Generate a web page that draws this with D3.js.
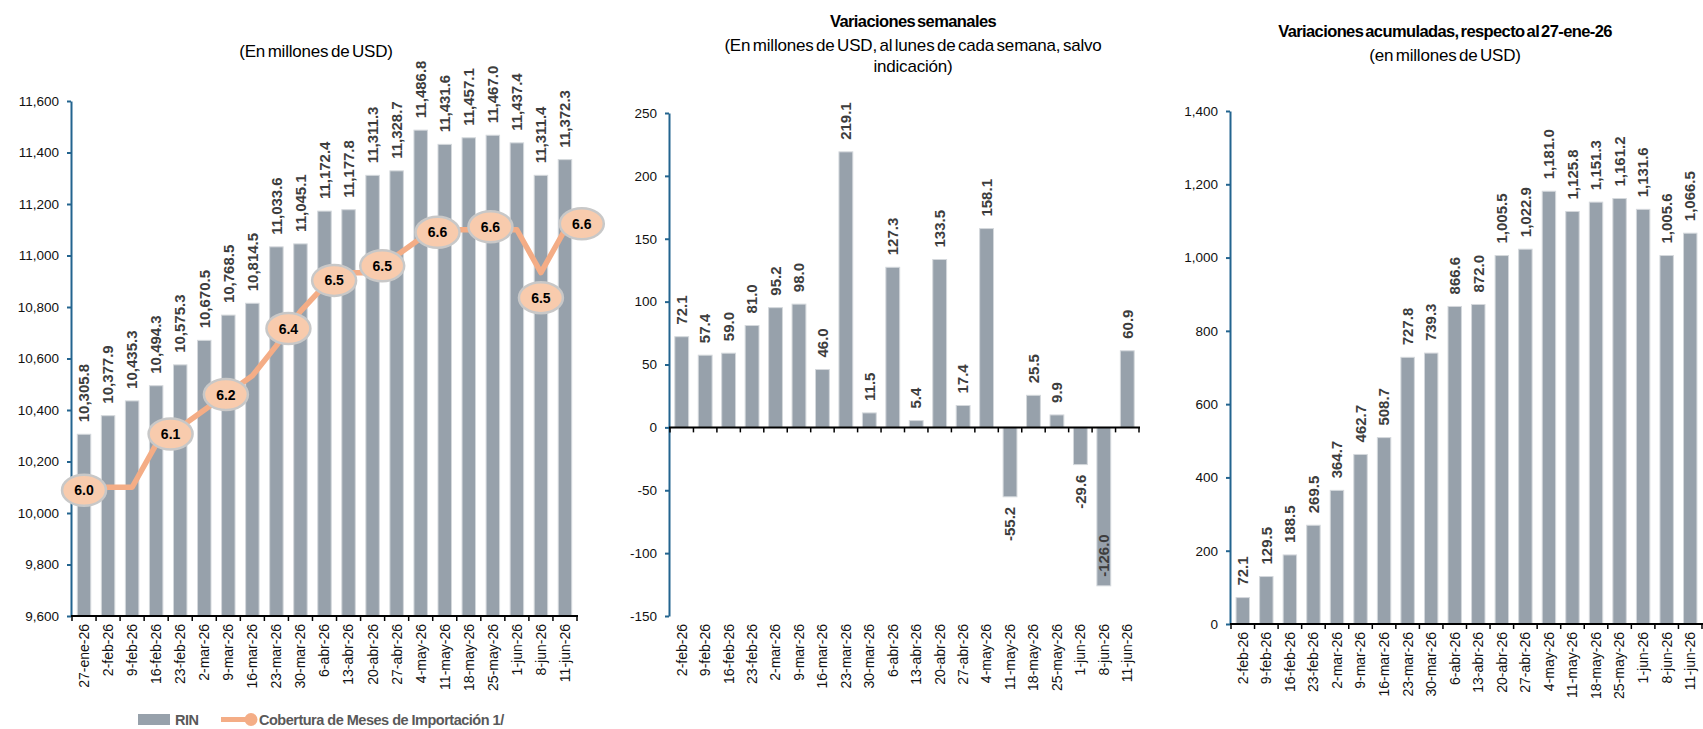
<!DOCTYPE html>
<html>
<head>
<meta charset="utf-8">
<script src="https://cdn.jsdelivr.net/npm/d3@7"></script>
<style>
  body { margin: 0; background: #fff; }
  svg text { font-family: "Liberation Sans", Arial, sans-serif; }
</style>
</head>
<body>
<svg id="chart" width="1703" height="729"></svg>
<script>
// ---- datos ----
const fechasRIN = ['27-ene-26','2-feb-26','9-feb-26','16-feb-26','23-feb-26','2-mar-26','9-mar-26',
  '16-mar-26','23-mar-26','30-mar-26','6-abr-26','13-abr-26','20-abr-26','27-abr-26','4-may-26',
  '11-may-26','18-may-26','25-may-26','1-jun-26','8-jun-26','11-jun-26'];
const rin = [10305.8, 10377.9, 10435.3, 10494.3, 10575.3, 10670.5, 10768.5, 10814.5, 11033.6,
  11045.1, 11172.4, 11177.8, 11311.3, 11328.7, 11486.8, 11431.6, 11457.1, 11467.0, 11437.4,
  11311.4, 11372.3];
// cobertura de meses de importación (eje secundario, oculto)
const cobertura = [6.00, 6.00, 6.00, 6.10, 6.14, 6.18, 6.22, 6.26, 6.33, 6.41, 6.47, 6.50, 6.50,
  6.54, 6.58, 6.60, 6.60, 6.60, 6.60, 6.50, 6.60];
// etiquetas de la línea: posición (índice de categoría) y texto
const coberturaPos = [0, 3.6, 5.9, 8.5, 10.4, 12.4, 14.7, 16.9, 19, 20.7];
const coberturaTxt = ['6.0','6.1','6.2','6.4','6.5','6.5','6.6','6.6','6.5','6.6'];
const ticksRIN = [9600, 9800, 10000, 10200, 10400, 10600, 10800, 11000, 11200, 11400, 11600];

const fechasVar = ['2-feb-26','9-feb-26','16-feb-26','23-feb-26','2-mar-26','9-mar-26','16-mar-26',
  '23-mar-26','30-mar-26','6-abr-26','13-abr-26','20-abr-26','27-abr-26','4-may-26','11-may-26',
  '18-may-26','25-may-26','1-jun-26','8-jun-26','11-jun-26'];
const varSemanal = [72.1, 57.4, 59.0, 81.0, 95.2, 98.0, 46.0, 219.1, 11.5, 127.3, 5.4, 133.5,
  17.4, 158.1, -55.2, 25.5, 9.9, -29.6, -126.0, 60.9];
const ticksSemanal = [-150, -100, -50, 0, 50, 100, 150, 200, 250];

const varAcumulada = [72.1, 129.5, 188.5, 269.5, 364.7, 462.7, 508.7, 727.8, 739.3, 866.6, 872.0,
  1005.5, 1022.9, 1181.0, 1125.8, 1151.3, 1161.2, 1131.6, 1005.6, 1066.5];
const ticksAcumulada = [0, 200, 400, 600, 800, 1000, 1200, 1400];

// ---- estilo ----
const GRIS = '#97a1ab';
const AZUL = '#23648f';
const NARANJA = '#f4ad86';
const NARANJA_CLARO = '#f8cbad';
const fmtMinus = f => (d => f(d).replace('\u2212', '-'));

const svg = d3.select('#chart');

function panel(o) {
  const n = o.cats.length;
  const x = d3.scaleBand().domain(o.cats).range([o.left, o.right])
    .paddingInner(o.pad).paddingOuter(o.pad / 2);
  const y = d3.scaleLinear().domain(o.domain).range([o.bottom, o.top]);
  const base = y(Math.max(o.domain[0], 0));
  const g = svg.append('g');

  g.selectAll('rect').data(o.vals).join('rect')
    .attr('x', (d, i) => x(o.cats[i]))
    .attr('width', x.bandwidth())
    .attr('y', d => Math.min(y(d), base))
    .attr('height', d => Math.abs(y(d) - base))
    .attr('fill', GRIS)
    .attr('stroke', '#d4d8dc')
    .attr('stroke-width', 1);

  // eje y
  const ya = g.append('g')
    .attr('transform', `translate(${o.left - 1},0)`)
    .call(d3.axisLeft(y).tickValues(o.ticks).tickFormat(fmtMinus(d3.format(',')))
      .tickSize(4).tickSizeOuter(0).tickPadding(8));
  ya.select('.domain').attr('stroke', AZUL).attr('stroke-width', 2);
  ya.selectAll('.tick line').attr('stroke', AZUL).attr('stroke-width', 2);
  ya.selectAll('.tick text').attr('font-size', 13.5).attr('fill', '#111');

  // eje x: línea base y marcas entre categorías
  g.append('line')
    .attr('x1', o.left - 1).attr('x2', o.right + 1)
    .attr('y1', base).attr('y2', base)
    .attr('stroke', '#000').attr('stroke-width', 2);
  g.selectAll('line.tk').data(d3.range(n + 1)).join('line')
    .attr('class', 'tk')
    .attr('x1', k => o.left + k * x.step()).attr('x2', k => o.left + k * x.step())
    .attr('y1', base).attr('y2', base + 5)
    .attr('stroke', '#000').attr('stroke-width', 1.5);

  // etiquetas de categoría (abajo)
  g.selectAll('text.cat').data(o.cats).join('text')
    .attr('class', 'cat')
    .attr('transform', d => `translate(${x(d) + x.bandwidth() / 2},${o.bottom + 8}) rotate(-90)`)
    .attr('text-anchor', 'end')
    .attr('dy', '0.35em')
    .attr('font-size', 14)
    .attr('fill', '#111')
    .text(d => d);

  // etiquetas de valores
  const fv = fmtMinus(d3.format(o.fmt));
  g.selectAll('text.val').data(o.vals).join('text')
    .attr('class', 'val')
    .each(function (d, i) {
      const cx = x(o.cats[i]) + x.bandwidth() / 2;
      const t = d3.select(this);
      let ty, anchor;
      if (d >= 0) { ty = y(d) - 12; anchor = 'start'; }
      else {
        const len = fv(d).length * 7.6;
        if (y(d) + 10 + len <= o.bottom) { ty = y(d) + 10; anchor = 'end'; }
        else { ty = y(d) - 9; anchor = 'start'; }
      }
      t.attr('transform', `translate(${cx},${ty}) rotate(-90)`).attr('text-anchor', anchor);
    })
    .attr('dy', '0.35em')
    .attr('font-size', 15)
    .attr('font-weight', 'bold')
    .attr('fill', '#3d3d3d')
    .text(d => fv(d));

  return { g, x, y };
}

// ---- panel 1: RIN ----
const p1 = panel({
  cats: fechasRIN, vals: rin, domain: [9600, 11600], ticks: ticksRIN,
  left: 72, right: 577, top: 101, bottom: 616, pad: 0.44, fmt: ',.1f'
});
const y2 = d3.scaleLinear().domain([5.7, 6.9]).range([616, 101]);
const cx1 = i => 72 + p1.x.step() * (i + 0.5);
p1.g.append('path')
  .datum(cobertura)
  .attr('d', d3.line().x((d, i) => cx1(i)).y(d => y2(d)))
  .attr('fill', 'none')
  .attr('stroke', NARANJA)
  .attr('stroke-width', 5.5)
  .attr('stroke-linejoin', 'round');
const coberturaEn = p => {
  const i = Math.min(Math.floor(p), cobertura.length - 1);
  const j = Math.min(i + 1, cobertura.length - 1);
  return cobertura[i] + (cobertura[j] - cobertura[i]) * (p - i);
};
const desplazamiento = [3, 0, 0, 0, 0, 0, 0, -3, 25, -6];
const marcas = p1.g.selectAll('g.mk').data(coberturaPos).join('g')
  .attr('class', 'mk')
  .attr('transform', (p, k) => `translate(${cx1(p)},${y2(coberturaEn(p)) + desplazamiento[k]})`);
marcas.append('ellipse')
  .attr('rx', 22).attr('ry', 15.5)
  .attr('fill', NARANJA_CLARO)
  .attr('stroke', '#c8c8c8').attr('stroke-width', 2.5);
marcas.append('text')
  .attr('text-anchor', 'middle').attr('dy', '0.36em')
  .attr('font-size', 14).attr('font-weight', 'bold').attr('fill', '#000')
  .text((p, k) => coberturaTxt[k]);

// ---- panel 2: variaciones semanales ----
panel({
  cats: fechasVar, vals: varSemanal, domain: [-150, 250], ticks: ticksSemanal,
  left: 670, right: 1139, top: 113, bottom: 616, pad: 0.41, fmt: '.1f'
});

// ---- panel 3: variaciones acumuladas ----
panel({
  cats: fechasVar, vals: varAcumulada, domain: [0, 1400], ticks: ticksAcumulada,
  left: 1231, right: 1702, top: 111, bottom: 624, pad: 0.43, fmt: ',.1f'
});

// ---- títulos ----
const titulo = (tx, ty, txt, bold, size) => svg.append('text')
  .attr('x', tx).attr('y', ty).attr('text-anchor', 'middle')
  .attr('font-size', size).attr('font-weight', bold ? 'bold' : 'normal')
  .attr('fill', '#000').attr('word-spacing', -2).attr('letter-spacing', bold ? -0.6 : -0.2)
  .text(txt);
titulo(316, 57, '(En millones de USD)', false, 17);
titulo(913, 27, 'Variaciones semanales', true, 16.5);
titulo(913, 50.5, '(En millones de USD, al lunes de cada semana, salvo', false, 17);
titulo(913, 72, 'indicación)', false, 17);
titulo(1445, 37, 'Variaciones acumuladas, respecto al 27-ene-26', true, 16.5);
titulo(1445, 60.5, '(en millones de USD)', false, 17);

// ---- leyenda ----
const ley = svg.append('g');
ley.append('rect').attr('x', 138).attr('y', 714).attr('width', 32).attr('height', 11).attr('fill', GRIS);
ley.append('text').attr('x', 175).attr('y', 724.5).attr('font-size', 14.5).attr('font-weight', 'bold')
  .attr('letter-spacing', -0.5).attr('fill', '#595959').text('RIN');
ley.append('line').attr('x1', 221).attr('x2', 250).attr('y1', 719.5).attr('y2', 719.5)
  .attr('stroke', NARANJA).attr('stroke-width', 5);
ley.append('circle').attr('cx', 251).attr('cy', 719.5).attr('r', 6.5).attr('fill', NARANJA);
ley.append('text').attr('x', 259).attr('y', 724.5).attr('font-size', 14.5).attr('font-weight', 'bold')
  .attr('letter-spacing', -0.5).attr('fill', '#595959').text('Cobertura de Meses de Importación 1/');
</script>
</body>
</html>
